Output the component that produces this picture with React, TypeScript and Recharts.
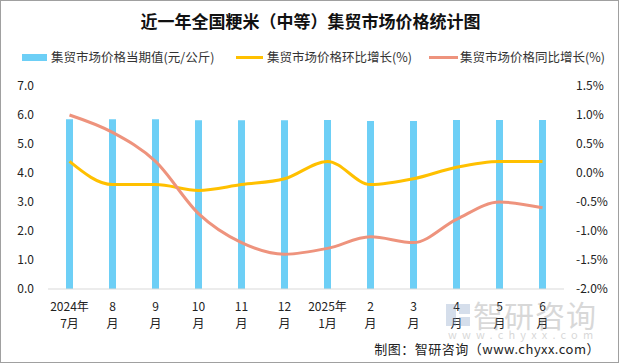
import React from "react";
import { ComposedChart, Bar, Line, XAxis, YAxis } from "recharts";

const labelTop = ["2024年", "8", "9", "10", "11", "12", "2025年", "2", "3", "4", "5", "6"];
const labelBottom = ["7月", "月", "月", "月", "月", "月", "1月", "月", "月", "月", "月", "月"];
const price = [5.85, 5.85, 5.85, 5.82, 5.82, 5.82, 5.83, 5.79, 5.79, 5.83, 5.83, 5.83];
const mom = [0.2, -0.2, -0.2, -0.3, -0.2, -0.1, 0.2, -0.2, -0.1, 0.1, 0.2, 0.2];
const yoy = [1.0, 0.7, 0.2, -0.7, -1.2, -1.4, -1.3, -1.1, -1.2, -0.8, -0.5, -0.6];
const leftTicks = [0, 1, 2, 3, 4, 5, 6, 7];
const rightTicks = [-2, -1.5, -1, -0.5, 0, 0.5, 1, 1.5];
const legendNames = ["集贸市场价格当期值(元/公斤)", "集贸市场价格环比增长(%)", "集贸市场价格同比增长(%)"];

const data = labelTop.map((t, i) => ({
  name: String(i),
  price: price[i],
  mom: mom[i],
  yoy: yoy[i],
}));

const FONT = "'Noto Sans CJK SC', 'Noto Sans', sans-serif";
const BLUE = "#6DCFF6";
const YELLOW = "#FFC000";
const SALMON = "#EE937D";

const XTick = (props: any) => {
  const { x, y, payload } = props;
  const i = Number(payload.value);
  return (
    <g>
      <text x={x} y={y + 14} textAnchor="middle" fontSize={12} fill="#222" fontFamily={FONT}>
        {labelTop[i]}
      </text>
      <text x={x} y={y + 31} textAnchor="middle" fontSize={12} fill="#222" fontFamily={FONT}>
        {labelBottom[i]}
      </text>
    </g>
  );
};

const legendItems = [
  { sw: { left: 21, width: 25, height: 7 }, color: BLUE, textLeft: 50 },
  { sw: { left: 235, width: 27, height: 3 }, color: YELLOW, textLeft: 266 },
  { sw: { left: 428, width: 29, height: 3 }, color: SALMON, textLeft: 459 },
];

export default function App() {
  return (
    <div
      style={{
        position: "absolute",
        left: 0,
        top: 0,
        width: 619,
        height: 363,
        boxSizing: "border-box",
        border: "1px solid #a0a0a0",
        background: "#fff",
        fontFamily: FONT,
        overflow: "hidden",
      }}
    >
      <div
        style={{
          position: "absolute",
          top: 7,
          left: 0,
          width: 619,
          textAlign: "center",
          fontSize: 17,
          fontWeight: "bold",
          color: "#111",
        }}
      >
        近一年全国粳米（中等）集贸市场价格统计图
      </div>
      {legendItems.map((it, i) => (
        <React.Fragment key={i}>
          <div
            style={{
              position: "absolute",
              left: it.sw.left,
              top: 56 - it.sw.height / 2,
              width: it.sw.width,
              height: it.sw.height,
              background: it.color,
            }}
          />
          <div
            style={{
              position: "absolute",
              left: it.textLeft,
              top: 46,
              fontSize: 12.5,
              lineHeight: "19px",
              color: "#333",
              whiteSpace: "nowrap",
            }}
          >
            {legendNames[i]}
          </div>
        </React.Fragment>
      ))}
      <div style={{ position: "absolute", left: 0, top: 0 }}>
        <ComposedChart
          width={619}
          height={363}
          data={data}
          margin={{ top: 85, right: 0, bottom: 30, left: 0 }}
        >
          <XAxis
            dataKey="name"
            xAxisId="x"
            tick={<XTick />}
            tickLine={false}
            axisLine={{ stroke: "#d9d9d9" }}
            height={45}
            interval={0}
          />
          <YAxis
            yAxisId="left"
            orientation="left"
            domain={[0, 7]}
            ticks={leftTicks}
            width={47}
            axisLine={false}
            tickLine={false}
            tickMargin={8}
            tick={{ fontSize: 12, fill: "#222", fontFamily: FONT }}
            tickFormatter={(v: number) => v.toFixed(1)}
          />
          <YAxis
            yAxisId="right"
            orientation="right"
            domain={[-2, 1.5]}
            ticks={rightTicks}
            width={56}
            axisLine={false}
            tickLine={false}
            tickMargin={6}
            tick={{ fontSize: 12, fill: "#222", fontFamily: FONT }}
            tickFormatter={(v: number) => v.toFixed(1) + "%"}
          />
          <Bar dataKey="price" xAxisId="x" yAxisId="left" fill={BLUE} barSize={7} isAnimationActive={false} />
          <Line
            dataKey="mom"
            xAxisId="x"
            yAxisId="right"
            type="monotone"
            stroke={YELLOW}
            strokeWidth={3}
            dot={false}
            activeDot={false}
            isAnimationActive={false}
          />
          <Line
            dataKey="yoy"
            xAxisId="x"
            yAxisId="right"
            type="monotone"
            stroke={SALMON}
            strokeWidth={3}
            dot={false}
            activeDot={false}
            isAnimationActive={false}
          />
        </ComposedChart>
      </div>
      <div style={{ position: "absolute", left: 0, top: 0, opacity: 0.32, pointerEvents: "none" }}>
        <div style={{ position: "absolute", left: 445, top: 303, width: 10, height: 22, background: "#7f9cc4" }} />
        <div style={{ position: "absolute", left: 458, top: 303, width: 11, height: 10, background: "#7f9cc4" }} />
        <div style={{ position: "absolute", left: 458, top: 316, width: 11, height: 9, background: "#7f9cc4" }} />
        <div
          style={{
            position: "absolute",
            left: 472,
            top: 295,
            fontSize: 30,
            lineHeight: "36px",
            color: "#888",
            letterSpacing: 1,
            whiteSpace: "nowrap",
          }}
        >
          智研咨询
        </div>
        <div
          style={{
            position: "absolute",
            left: 447,
            top: 327,
            fontSize: 11,
            lineHeight: "13px",
            color: "#888",
            letterSpacing: 5.2,
            whiteSpace: "nowrap",
          }}
        >
          www.chyxx.com
        </div>
      </div>
      <div
        style={{
          position: "absolute",
          right: 18,
          top: 338,
          fontSize: 13,
          color: "#222",
          whiteSpace: "nowrap",
          letterSpacing: 0.5,
        }}
      >
        制图：智研咨询（www.chyxx.com）
      </div>
    </div>
  );
}
